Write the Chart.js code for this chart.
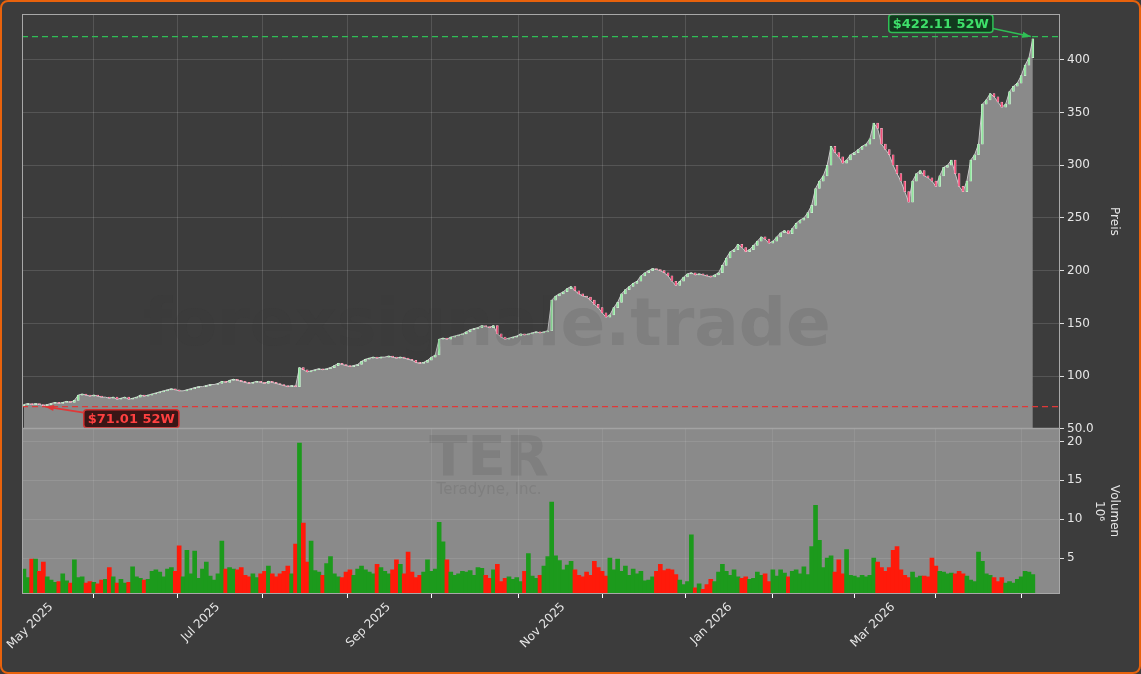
<!DOCTYPE html>
<html>
<head>
<meta charset="utf-8">
<script src="https://cdn.jsdelivr.net/npm/chart.js@4.4.1/dist/chart.umd.min.js"></script>
<style>
  html, body { margin: 0; padding: 0; background: #3c3c3c; }
  #wrap { position: relative; width: 1141px; height: 674px; box-sizing: border-box; border: 2px solid #e8620c; border-radius: 8px; overflow: hidden; background: #3c3c3c; }
  #c1 { position: absolute; left: -2px; top: -2px; }
  #c2 { position: absolute; left: -2px; top: 416px; }
</style>
</head>
<body>
<div id="wrap">
  <canvas id="c1" width="1141" height="439"></canvas>
  <canvas id="c2" width="1141" height="256"></canvas>
</div>
<script>
// daily closes, one row per week (Mon..Fri), starting Tue 22 Apr 2025
const closes = [
  73,74,73,74,
  73,72,73,74,75,
  74,75,76,75,77,
  82,83,82,81,82,
  81,80,80,79,80,
  78,79,80,78,79,
  80,82,81,82,83,
  84,85,86,87,88,
  87,86,86,87,88,
  89,90,90,91,92,
  92,93,95,94,96,
  97,96,95,94,93,
  94,95,94,93,95,
  94,93,92,91,90,
  91,90,108,106,104,
  105,106,107,106,107,
  108,110,112,111,110,
  109,110,111,114,116,
  117,118,117,118,118,
  119,118,117,118,117,
  116,115,113,112,113,
  115,118,120,135,136,
  135,137,138,139,140,
  142,144,145,146,148,
  147,146,148,140,137,
  135,136,137,138,140,
  139,140,141,142,141,
  142,143,172,176,178,
  180,183,185,181,178,
  176,175,172,168,165,
  160,156,158,165,170,
  178,182,185,188,190,
  195,198,200,202,201,
  200,198,195,190,186,
  190,194,197,198,196,
  197,196,195,194,196,
  198,205,212,218,220,
  225,222,218,220,224,
  228,232,230,226,228,
  232,236,238,235,240,
  245,248,250,255,262,
  278,285,290,300,318,
  312,308,302,305,310,
  312,315,318,320,325,
  340,335,320,315,310,
  300,292,285,275,265,
  285,292,295,290,288,
  285,280,290,298,300,
  305,292,280,275,285,
  305,310,320,358,362,
  368,365,360,355,358,
  370,375,378,385,395,
  402,420
];
// daily volume in millions
const volumes = [
  3.6,2.5,4.9,4.9,
  3.3,4.5,2.6,2.2,1.9,
  2.0,3.0,2.1,1.8,4.8,
  2.5,2.6,1.8,2.0,1.9,
  1.7,2.2,2.3,3.8,2.6,
  1.8,2.3,1.8,1.9,3.9,
  2.6,2.4,2.2,2.3,3.3,
  3.5,3.2,2.6,3.6,3.8,
  3.3,6.6,2.6,6.0,3.0,
  5.9,2.4,3.6,4.5,2.7,
  2.2,3.0,7.2,3.6,3.8,
  3.6,3.5,3.8,2.8,2.6,
  3.0,2.5,3.0,3.3,4.0,
  3.0,2.6,3.0,3.3,4.0,
  3.0,6.8,19.8,9.5,4.5,
  7.2,3.4,3.2,2.8,4.3,
  5.2,3.0,2.6,2.5,3.2,
  3.5,2.8,3.6,4.0,3.5,
  3.2,3.0,4.2,3.8,3.3,
  3.0,3.5,4.8,4.2,3.0,
  5.8,3.2,2.5,2.8,3.2,
  4.8,3.3,3.6,9.6,7.1,
  4.8,3.2,2.8,3.0,3.3,
  3.2,3.4,2.8,3.8,3.7,
  2.8,2.4,3.5,4.2,2.0,
  2.4,2.6,2.3,2.5,2.0,
  3.3,5.6,2.7,2.4,2.8,
  4.0,5.2,12.2,5.3,4.7,
  3.5,4.1,4.6,3.5,2.8,
  2.6,3.2,2.8,4.6,3.8,
  3.3,2.7,5.0,3.5,4.9,
  3.3,4.0,2.8,3.6,3.0,
  3.3,2.1,2.2,2.6,3.3,
  4.2,3.4,3.6,3.5,2.9,
  2.2,1.6,2.0,8.0,1.2,
  1.7,1.0,1.6,2.3,2.0,
  3.2,4.2,3.3,2.8,3.5,
  2.6,2.4,2.6,2.3,2.4,
  3.2,2.8,3.0,2.0,3.5,
  2.7,3.5,3.1,2.6,3.3,
  3.5,3.0,3.9,2.9,6.5,
  11.8,7.3,3.8,5.0,5.3,
  3.2,4.8,3.0,6.1,2.8,
  2.7,2.5,2.8,2.6,2.8,
  5.0,4.5,3.8,3.3,3.8,
  6.0,6.5,3.5,2.8,2.5,
  3.2,2.5,2.7,2.7,2.6,
  5.0,4.0,3.3,3.2,3.0,
  3.1,3.0,3.3,3.0,2.7,
  2.2,2.0,5.8,4.6,3.0,
  2.8,2.5,2.0,2.5,1.8,
  2.0,1.8,2.3,2.6,3.3,
  3.2,2.9
];
const priceTicks = [50, 100, 150, 200, 250, 300, 350, 400];
const volumeTicks = [5, 10, 15, 20];
const monthNames = ['Jan','Feb','Mar','Apr','May','Jun','Jul','Aug','Sep','Oct','Nov','Dec'];
const labelledMonths = ['Jan','Mar','May','Jul','Sep','Nov'];
const high52 = 422.11;
const low52 = 71.01;
const symbol = 'TER';
const company = 'Teradyne, Inc.';
const watermark = 'forexsignale.trade';

// trading-day dates (weekdays) starting 22 Apr 2025
const dates = [];
let d = new Date(Date.UTC(2025, 3, 22));
while (dates.length < closes.length) {
  const wd = d.getUTCDay();
  if (wd !== 0 && wd !== 6) dates.push(new Date(d));
  d = new Date(d.getTime() + 86400000);
}
// first trading day of each month -> index
const monthStarts = [];
dates.forEach((dt, i) => {
  if (i > 0 && dt.getUTCMonth() !== dates[i - 1].getUTCMonth()) {
    const name = monthNames[dt.getUTCMonth()];
    monthStarts.push({ i, label: name + ' ' + dt.getUTCFullYear(), show: labelledMonths.includes(name) });
  }
});

const up = closes.map((c, i) => i === 0 ? true : c >= closes[i - 1]);
const xMin = -0.5, xMax = closes.length + 6;
const RIGHT_W = 61;
const gridCol = 'rgba(255,255,255,0.13)';
const wmCol = 'rgba(55,55,55,0.13)';

const xCommon = {
  type: 'linear', min: xMin, max: xMax, offset: false,
  afterBuildTicks: s => { s.ticks = monthStarts.map(m => ({ value: m.i })); },
  grid: { color: gridCol, drawTicks: false },
  border: { display: false }
};

// panel background, frame and watermark
const framePlugin = (bg, marks) => ({
  id: 'frame',
  beforeDraw(chart) {
    const { ctx, chartArea: a } = chart;
    ctx.save();
    ctx.fillStyle = bg;
    ctx.fillRect(a.left, a.top, a.right - a.left, a.bottom - a.top);
    ctx.restore();
  },
  afterDatasetsDraw(chart) {
    const { ctx } = chart;
    ctx.save();
    marks.forEach(m => {
      ctx.font = m.font;
      ctx.fillStyle = m.color;
      ctx.textAlign = 'center';
      ctx.textBaseline = 'middle';
      ctx.fillText(m.text, m.x, m.y);
    });
    ctx.restore();
  },
  afterDraw(chart) {
    const { ctx, chartArea: a } = chart;
    ctx.save();
    ctx.strokeStyle = '#a8a8a8';
    ctx.lineWidth = 1;
    ctx.strokeRect(a.left + 0.5, a.top + 0.5, a.right - a.left - 1, a.bottom - a.top - 1);
    ctx.restore();
  }
});

function label(ctx, text, cx, cy, fg, bg, bd) {
  ctx.font = 'bold 13px "DejaVu Sans"';
  const w = ctx.measureText(text).width + 8, h = 18;
  ctx.fillStyle = bg; ctx.strokeStyle = bd; ctx.lineWidth = 1.5;
  ctx.beginPath(); ctx.roundRect(cx - w / 2, cy - h / 2, w, h, 3); ctx.fill(); ctx.stroke();
  ctx.fillStyle = fg; ctx.textAlign = 'center'; ctx.textBaseline = 'middle';
  ctx.fillText(text, cx, cy + 1);
  return w;
}
function arrow(ctx, x1, y1, x2, y2, col) {
  ctx.strokeStyle = col; ctx.fillStyle = col; ctx.lineWidth = 1.6;
  ctx.beginPath(); ctx.moveTo(x1, y1); ctx.lineTo(x2, y2); ctx.stroke();
  const an = Math.atan2(y2 - y1, x2 - x1);
  ctx.beginPath(); ctx.moveTo(x2, y2);
  ctx.lineTo(x2 - 9 * Math.cos(an - 0.35), y2 - 9 * Math.sin(an - 0.35));
  ctx.lineTo(x2 - 9 * Math.cos(an + 0.35), y2 - 9 * Math.sin(an + 0.35));
  ctx.closePath(); ctx.fill();
}

const extremesPlugin = {
  id: 'extremes',
  afterDatasetsDraw(chart) {
    const { ctx, chartArea: a, scales: { x, y } } = chart;
    const yh = y.getPixelForValue(high52), yl = y.getPixelForValue(low52);
    ctx.save();
    ctx.setLineDash([6, 4]); ctx.lineWidth = 1.3;
    ctx.strokeStyle = '#2fbf55';
    ctx.beginPath(); ctx.moveTo(a.left, yh); ctx.lineTo(a.right, yh); ctx.stroke();
    ctx.strokeStyle = '#e03838';
    ctx.beginPath(); ctx.moveTo(a.left, yl); ctx.lineTo(a.right, yl); ctx.stroke();
    ctx.setLineDash([]);
    const hi = closes.indexOf(Math.max(...closes));
    const lo = closes.indexOf(Math.min(...closes));
    const hx = x.getPixelForValue(hi), lx = x.getPixelForValue(lo);
    const gw = label(ctx, '$' + high52.toFixed(2) + ' 52W', hx - 92, yh - 13, '#3ee06a', '#123a1e', '#2fbf55');
    arrow(ctx, hx - 92 + gw / 2, yh - 8, hx - 2, yh, '#2fbf55');
    const rw = label(ctx, '$' + low52.toFixed(2) + ' 52W', lx + 88, yl + 12, '#ff4040', '#3a1616', '#d03030');
    arrow(ctx, lx + 88 - rw / 2, yl + 6, lx + 2, yl, '#e03838');
    ctx.restore();
  }
};

new Chart(document.getElementById('c1'), {
  data: {
    datasets: [
      {
        type: 'line',
        data: closes.map((c, i) => ({ x: i, y: c })),
        borderColor: '#c8c8c8', borderWidth: 1, backgroundColor: '#8a8a8a',
        fill: 'start', pointRadius: 0, tension: 0, order: 2
      },
      {
        type: 'bar',
        data: closes.map((c, i) => ({ x: i, y: [i === 0 ? c - 1 : closes[i - 1], c] })),
        backgroundColor: up.map(u => u ? '#8fe59c' : '#f0507a'),
        borderColor: up.map(u => u ? '#e0f5e4' : '#ffd0dc'),
        borderWidth: 0.5, barThickness: 2, borderSkipped: false, order: 1
      }
    ]
  },
  options: {
    responsive: false, animation: false, devicePixelRatio: 1,
    layout: { padding: { left: 22, top: 14, right: 20, bottom: 0 } },
    plugins: { legend: { display: false }, tooltip: { enabled: false } },
    scales: {
      x: Object.assign({}, xCommon, { ticks: { display: false }, afterFit: s => { s.height = 0; } }),
      y: {
        position: 'right', min: 50, max: 443.5,
        afterBuildTicks: s => { s.ticks = priceTicks.map(v => ({ value: v })); },
        afterFit: s => { s.width = RIGHT_W; },
        grid: { color: gridCol, tickColor: '#dddddd', tickLength: 4 },
        border: { display: false },
        ticks: { color: '#e6e6e6', font: { family: 'DejaVu Sans', size: 12 }, padding: 3,
          callback: v => v === 50 ? '50.0' : String(v) },
        title: { display: true, text: 'Preis', color: '#e6e6e6', font: { family: 'DejaVu Sans', size: 12 }, padding: 0 }
      }
    }
  },
  plugins: [framePlugin('#3c3c3c', [
    { text: watermark, x: 487, y: 328, font: 'bold 66px "DejaVu Sans"', color: wmCol }
  ]), extremesPlugin]
});

new Chart(document.getElementById('c2'), {
  type: 'bar',
  data: {
    datasets: [{
      data: volumes.map((v, i) => ({ x: i, y: v })),
      backgroundColor: up.map(u => u ? '#1c9a1c' : '#ff1a0a'),
      barThickness: 4, borderWidth: 0
    }]
  },
  options: {
    responsive: false, animation: false, devicePixelRatio: 1,
    layout: { padding: { left: 22, top: 2, right: 20, bottom: 0 } },
    plugins: { legend: { display: false }, tooltip: { enabled: false } },
    scales: {
      x: Object.assign({}, xCommon, {
        afterFit: s => { s.height = 80; },
        grid: { color: 'rgba(255,255,255,0.08)', tickColor: '#ffffff', tickLength: 4, drawTicks: true },
        ticks: {
          color: '#e6e6e6', font: { family: 'DejaVu Sans', size: 12 }, maxRotation: 45, minRotation: 45,
          autoSkip: false, padding: 2,
          callback: v => { const m = monthStarts.find(mm => mm.i === v); return m && m.show ? m.label : ''; }
        }
      }),
      y: {
        position: 'right', min: 0.4, max: 21.7,
        afterBuildTicks: s => { s.ticks = volumeTicks.map(v => ({ value: v })); },
        afterFit: s => { s.width = RIGHT_W; },
        grid: { color: 'rgba(255,255,255,0.1)', tickColor: '#dddddd', tickLength: 4 },
        border: { display: false },
        ticks: { color: '#e6e6e6', font: { family: 'DejaVu Sans', size: 12 }, padding: 3 },
        title: { display: true, text: ['Volumen', '10⁶'], color: '#e6e6e6', font: { family: 'DejaVu Sans', size: 12 }, padding: 0 }
      }
    }
  },
  plugins: [framePlugin('#8a8a8a', [
    { text: symbol, x: 489, y: 460 - 418, font: 'bold 56px "DejaVu Sans"', color: wmCol },
    { text: company, x: 489, y: 490 - 418, font: '15px "DejaVu Sans"', color: wmCol }
  ])]
});
</script>
</body>
</html>
